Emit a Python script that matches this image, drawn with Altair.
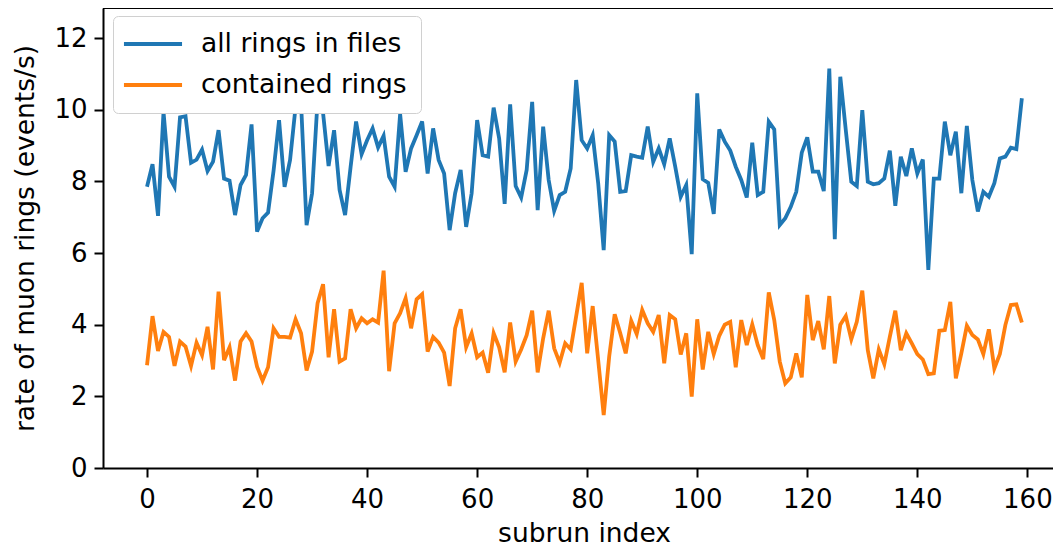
import altair as alt
import pandas as pd

subrun = list(range(160))

all_rings = [
    7.85, 8.48, 7.04, 9.94, 8.13, 7.85, 9.79, 9.82, 8.52, 8.61,
    8.89, 8.29, 8.55, 9.43, 8.08, 8.02, 7.06, 7.90, 8.18, 9.59,
    6.60, 6.97, 7.13, 8.30, 9.71, 7.85, 8.60, 10.08, 10.18, 6.78,
    7.67, 10.27, 9.90, 8.43, 9.43, 7.76, 7.06, 8.40, 9.67, 8.76,
    9.15, 9.48, 8.95, 9.27, 8.13, 7.85, 9.88, 8.27, 8.92, 9.29,
    9.67, 8.22, 9.48, 8.60, 8.22, 6.64, 7.67, 8.32, 6.73, 7.67,
    9.71, 8.73, 8.69, 10.06, 9.20, 7.37, 10.15, 7.87, 7.55, 8.32,
    10.22, 7.20, 9.53, 8.04, 7.18, 7.62, 7.71, 8.36, 10.83, 9.15,
    8.92, 9.29, 7.95, 6.08, 9.29, 9.11, 7.71, 7.73, 8.73, 8.69,
    8.66, 9.53, 8.55, 8.92, 8.48, 9.20, 8.41, 7.57, 7.90, 5.97,
    10.46, 8.06, 7.96, 7.09, 9.45, 9.11, 8.86, 8.41, 8.04, 7.55,
    9.08, 7.62, 7.71, 9.67, 9.45, 6.78, 6.97, 7.29, 7.71, 8.80,
    9.23, 8.27, 8.27, 7.73, 11.15, 6.39, 10.92, 9.43, 7.99, 7.87,
    9.99, 7.99, 7.92, 7.95, 8.08, 8.86, 7.32, 8.69, 8.15, 8.92,
    8.22, 8.61, 5.53, 8.08, 8.08, 9.67, 8.73, 9.39, 7.67, 9.55,
    8.04, 7.16, 7.71, 7.57, 7.95, 8.64, 8.69, 8.94, 8.90, 10.32,
]

contained = [
    2.87, 4.24, 3.27, 3.80, 3.66, 2.85, 3.53, 3.39, 2.85, 3.50,
    3.15, 3.94, 2.75, 4.92, 3.01, 3.37, 2.44, 3.53, 3.76, 3.53,
    2.83, 2.44, 2.81, 3.90, 3.66, 3.66, 3.64, 4.15, 3.76, 2.72,
    3.25, 4.60, 5.13, 3.09, 4.43, 2.97, 3.06, 4.43, 3.90, 4.18,
    4.04, 4.15, 4.06, 5.51, 2.70, 4.04, 4.32, 4.74, 3.90, 4.71,
    4.85, 3.25, 3.66, 3.50, 3.22, 2.29, 3.90, 4.43, 3.37, 3.76,
    3.09, 3.22, 2.66, 3.76, 3.37, 2.67, 4.06, 2.97, 3.31, 3.71,
    4.39, 2.67, 3.62, 4.39, 3.34, 2.94, 3.48, 3.31, 4.24, 5.17,
    3.20, 4.52, 3.01, 1.48, 3.11, 4.29, 3.77, 3.20, 4.11, 3.74,
    4.41, 4.04, 3.80, 4.27, 2.92, 4.27, 4.15, 3.17, 3.76, 1.99,
    4.15, 2.75, 3.80, 3.18, 3.69, 4.00, 4.08, 2.81, 4.13, 3.43,
    4.01, 3.43, 3.04, 4.90, 4.13, 2.97, 2.36, 2.53, 3.20, 2.53,
    4.83, 3.57, 4.10, 3.31, 4.80, 2.92, 4.00, 4.24, 3.59, 4.08,
    4.95, 3.29, 2.50, 3.31, 2.90, 3.66, 4.39, 3.29, 3.76, 3.48,
    3.18, 3.03, 2.62, 2.64, 3.83, 3.85, 4.64, 2.50, 3.20, 3.97,
    3.71, 3.59, 3.18, 3.87, 2.78, 3.18, 3.99, 4.55, 4.57, 4.06,
]

series_names = ["all rings in files", "contained rings"]
series_colors = ["#1f77b4", "#ff7f0e"]
x_ticks = [0, 20, 40, 60, 80, 100, 120, 140, 160]
y_ticks = [0, 2, 4, 6, 8, 10, 12]

df = pd.concat([
    pd.DataFrame({"subrun": subrun, "rate": all_rings, "series": series_names[0]}),
    pd.DataFrame({"subrun": subrun, "rate": contained, "series": series_names[1]}),
])

FONT = "DejaVu Sans"
FS = 26
LFS = 26.5

lines = alt.Chart(df).mark_line(strokeWidth=3.8, clip=True).encode(
    x=alt.X("subrun:Q", title="subrun index",
            scale=alt.Scale(domain=[-8, 164.66], nice=False, zero=False),
            axis=alt.Axis(values=x_ticks, grid=False, labelFontSize=FS, titleFontSize=LFS,
                          labelFont=FONT, titleFont=FONT, tickSize=9, tickWidth=2,
                          domainWidth=2, domainColor="black", tickColor="black",
                          labelColor="black", titleColor="black", labelPadding=9,
                          titlePadding=8, titleFontWeight="normal", labelFlush=False,
                          titleX=481, titleAlign="center")),
    y=alt.Y("rate:Q", title="rate of muon rings (events/s)",
            scale=alt.Scale(domain=[0, 12.84], nice=False),
            axis=alt.Axis(values=y_ticks, grid=False, labelFontSize=FS, titleFontSize=LFS,
                          labelFont=FONT, titleFont=FONT, tickSize=9, tickWidth=2,
                          domainWidth=2, domainColor="black", tickColor="black",
                          labelColor="black", titleColor="black", labelPadding=7,
                          titlePadding=14, titleFontWeight="normal", labelFlush=False)),
    color=alt.Color("series:N",
                    scale=alt.Scale(domain=series_names, range=series_colors),
                    legend=alt.Legend(title=None, orient="none", legendX=10, legendY=8,
                                      symbolType="M-1.42,0L3.42,0", symbolSize=576,
                                      symbolStrokeWidth=3.8, labelFontSize=LFS,
                                      labelFont=FONT, labelColor="black",
                                      fillColor="white", strokeColor="#d0d0d0",
                                      cornerRadius=5, padding=14, rowPadding=13,
                                      labelOffset=46, labelLimit=400)),
)

top = alt.Chart(pd.DataFrame({"y": [0]})).mark_rule(color="black", strokeWidth=2).encode(
    y=alt.value(0)
)

chart = alt.layer(lines, top).properties(
    width=950, height=460,
    autosize=alt.AutoSizeParams(type="none"),
    padding={"left": 95, "top": 0, "right": 0, "bottom": 80},
).configure_view(strokeWidth=0)

chart.save("out.html", embed_options={"renderer": "svg", "actions": False})
